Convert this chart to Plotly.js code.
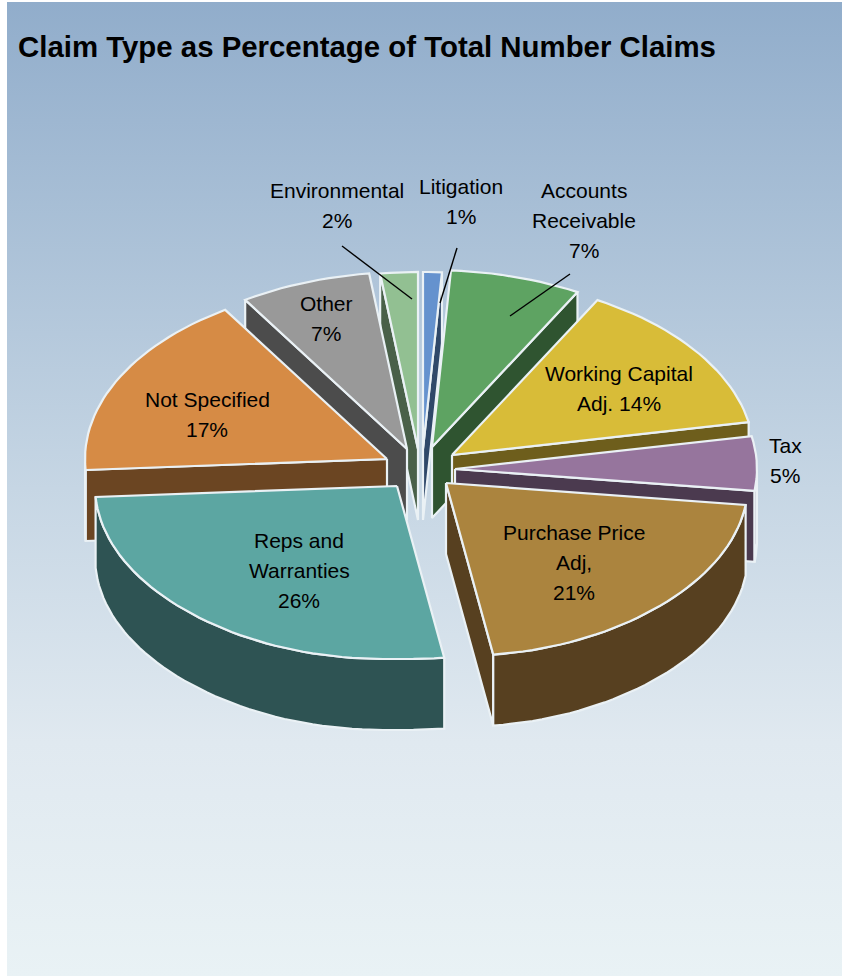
<!DOCTYPE html>
<html>
<head>
<meta charset="utf-8">
<script src="https://cdn.plot.ly/plotly-3.0.1.min.js"></script>
<style>
  html, body { margin: 0; padding: 0; background: #fff; }
  #frame { position: absolute; left: 7px; top: 2px; width: 835px; height: 974px;
           background: linear-gradient(to bottom, #91adcb 0%, #c6d6e4 50%, #e0e9f0 76%, #e9f2f5 100%); }
  #chart { position: absolute; left: 0; top: 0; width: 842px; height: 976px; }
</style>
</head>
<body>
<div id="frame"></div>
<div id="chart"></div>
<script>
// Claim types, clockwise from twelve o'clock
const categories = ["Litigation", "Accounts Receivable", "Working Capital Adj.", "Tax",
                    "Purchase Price Adj,", "Reps and Warranties", "Not Specified", "Other", "Environmental"];
const percentages = [1, 7, 14, 5, 21, 26, 17, 7, 2];
const topColors  = ["#6592ce", "#5ea362", "#d8bc38", "#96759d", "#ab843e", "#5ca6a2", "#d68b45", "#999999", "#92c092"];
const wallColors = ["#2f4869", "#2f5430", "#6e5e1c", "#4b3a4f", "#574020", "#2e5353", "#6b4522", "#4c4c4c", "#496049"];

// Exploded slice apex positions on the page
const apexX = [423, 432, 452, 455, 446, 397, 387, 407, 418];
const apexY = [449, 447, 455, 469, 483, 486, 459, 449, 449];

// Text of each data label, line by line, with the value appended by the code below
const labelLines = [["Litigation"], ["Accounts", "Receivable"], ["Working Capital"], ["Tax"],
                    ["Purchase Price", "Adj,"], ["Reps and", "Warranties"], ["Not Specified"], ["Other"], ["Environmental"]];
const valueInline = [false, false, true, false, false, false, false, false, false];
const labelX = [461, 584, 619, 785, 574, 299, 207, 326, 337];
const labelY = [186, 190, 373, 445, 532, 540, 399, 303, 190];
const labelStep = 30;

// Leader lines: [label index, x0, y0, x1, y1]
const leaders = [[8, 342, 246, 412, 299], [0, 457, 248, 440, 303], [1, 570, 274, 510, 316]];

// Tilted pie projection
const RX = 302, RY = 175, DEPTH = 71, FLARE = 10;
const STROKE = "#eaf1f5";
const DRAW_ORDER = [8, 0, 7, 1, 6, 2, 3, 5, 4];

function rim(i, deg) {
  const t = deg * Math.PI / 180, s = Math.sin(t), c = Math.cos(t);
  const front = Math.max(0, -c);
  return [apexX[i] + RX * s + Math.sign(s) * FLARE * Math.pow(front, 8),
          apexY[i] - RY * c - 2 * c * c];
}

const starts = [];
percentages.reduce((sum, p, i) => { starts[i] = sum; return sum + p; }, 0);

function poly(points, fill, name) {
  const xs = points.map(p => p[0]).concat(points[0][0]);
  const ys = points.map(p => p[1]).concat(points[0][1]);
  return { type: "scatter", mode: "lines", x: xs, y: ys, fill: "toself", fillcolor: fill,
           line: { color: STROKE, width: 2.2 }, name: name, hoverinfo: "name", showlegend: false };
}

const traces = [];
DRAW_ORDER.forEach(i => {
  const a0 = starts[i] * 3.6, a1 = (starts[i] + percentages[i]) * 3.6;
  const apex = [apexX[i], apexY[i]];
  const arc = [];
  const n = Math.max(4, Math.round((a1 - a0) / 2));
  for (let k = 0; k <= n; k++) arc.push(rim(i, a0 + (a1 - a0) * k / n));
  const down = p => [p[0], p[1] + DEPTH];
  const name = categories[i] + " " + percentages[i] + "%";
  const first = arc[0], last = arc[arc.length - 1];

  // A cut face shows only when its outward side turns towards the viewer
  if (Math.sin(a0 * Math.PI / 180) < 0) traces.push(poly([apex, first, down(first), down(apex)], wallColors[i], name));
  if (Math.sin(a1 * Math.PI / 180) > 0) traces.push(poly([apex, last, down(last), down(apex)], wallColors[i], name));
  // Outer rim wall: only the part of the arc on the near half of the pie shows
  const near = arc.filter((p, k) => { const d = a0 + (a1 - a0) * k / n; return d >= 90 && d <= 270; });
  if (near.length > 1) {
    traces.push(poly(near.concat(near.slice().reverse().map(down)), wallColors[i], name));
  }
  traces.push(poly([apex].concat(arc), topColors[i], name));
});

leaders.forEach(l => {
  traces.push({ type: "scatter", mode: "lines", x: [l[1], l[3]], y: [l[2], l[4]],
                line: { color: "#000", width: 1.4 }, hoverinfo: "skip", showlegend: false });
});

const annotations = [];
categories.forEach((c, i) => {
  const value = percentages[i] + "%";
  let lines = labelLines[i].slice();
  if (valueInline[i]) lines.push("Adj. " + value); else lines.push(value);
  lines.forEach((text, k) => {
    annotations.push({ x: labelX[i], y: labelY[i] + k * labelStep, xref: "x", yref: "y", text: text,
                       showarrow: false, xanchor: "center", yanchor: "middle",
                       font: { family: "Liberation Sans, Arial, sans-serif", size: 21, color: "#000" } });
  });
});

const layout = {
  width: 842, height: 976,
  margin: { l: 0, r: 0, t: 0, b: 0 },
  paper_bgcolor: "rgba(0,0,0,0)", plot_bgcolor: "rgba(0,0,0,0)",
  showlegend: false,
  title: { text: "<b>Claim Type as Percentage of Total Number Claims</b>",
           x: 18 / 842, xanchor: "left", y: 1 - 47 / 976, yanchor: "middle",
           font: { family: "Liberation Sans, Arial, sans-serif", size: 29.4, color: "#000" } },
  xaxis: { range: [0, 842], visible: false, fixedrange: true },
  yaxis: { range: [976, 0], visible: false, fixedrange: true },
  annotations: annotations
};

Plotly.newPlot("chart", traces, layout, { displayModeBar: false, responsive: false });
</script>
</body>
</html>
